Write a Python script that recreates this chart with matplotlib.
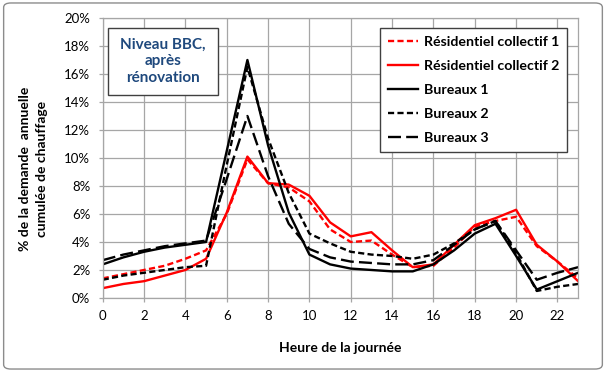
import matplotlib
matplotlib.use("Agg")
import matplotlib.pyplot as plt
from matplotlib.patches import FancyBboxPatch, Rectangle
from matplotlib.ticker import FuncFormatter

# heures de la journee
hours = list(range(24))

# % de la demande annuelle cumulee de chauffage
res_coll_1 = [1.4, 1.7, 2.0, 2.3, 2.8, 3.4, 6.0, 9.9, 8.2, 7.9, 6.9, 4.9,
              4.0, 4.1, 3.1, 2.2, 2.3, 3.6, 5.1, 5.5, 5.8, 3.7, 2.6, 1.4]
res_coll_2 = [0.7, 1.0, 1.2, 1.6, 2.0, 2.8, 6.1, 10.1, 8.2, 8.1, 7.3, 5.4,
              4.4, 4.7, 3.4, 2.2, 2.4, 3.8, 5.2, 5.7, 6.3, 3.8, 2.6, 1.2]
bureaux_1 = [2.4, 2.9, 3.3, 3.6, 3.8, 4.0, 10.5, 17.0, 10.9, 6.1, 3.1, 2.4,
             2.1, 2.0, 1.9, 1.9, 2.4, 3.4, 4.6, 5.3, 3.0, 0.6, 1.2, 1.8]
bureaux_2 = [1.3, 1.6, 1.8, 2.0, 2.2, 2.3, 9.5, 16.5, 11.4, 7.5, 4.6, 3.9,
             3.3, 3.1, 3.0, 2.8, 3.1, 3.9, 4.9, 5.5, 3.2, 0.5, 0.8, 1.0]
bureaux_3 = [2.7, 3.1, 3.4, 3.7, 3.9, 4.1, 8.5, 13.0, 8.7, 5.3, 3.5, 2.9,
             2.6, 2.5, 2.4, 2.4, 2.7, 3.8, 4.9, 5.5, 3.4, 1.3, 1.8, 2.2]

plt.rcParams['font.family'] = ['Lato', 'DejaVu Sans']

fig = plt.figure(figsize=(6.06, 3.72), dpi=100)
ax = fig.add_axes([0.1695, 0.199, 0.7845, 0.7526])

# cadre arrondi autour du graphique
frame = FancyBboxPatch((0.006, 0.008), 0.988, 0.984,
                       boxstyle="round,pad=0,rounding_size=0.012",
                       transform=fig.transFigure, fill=False,
                       edgecolor="#8c8c8c", linewidth=1.0)
fig.patches.append(frame)

lw = 1.7
ax.plot(hours, res_coll_1, color="#ff0000", lw=lw, dashes=(2.6, 1.4),
        label="Résidentiel collectif 1")
ax.plot(hours, res_coll_2, color="#ff0000", lw=lw,
        label="Résidentiel collectif 2")
ax.plot(hours, bureaux_1, color="black", lw=lw, label="Bureaux 1")
ax.plot(hours, bureaux_2, color="black", lw=lw, dashes=(2.6, 1.4),
        label="Bureaux 2")
ax.plot(hours, bureaux_3, color="black", lw=lw, dashes=(5.5, 2.2),
        label="Bureaux 3")

ax.set_xlim(0, 23)
ax.set_ylim(0, 20)
ax.set_xticks(range(0, 23, 2))
ax.set_yticks(range(0, 21, 2))
ax.yaxis.set_major_formatter(FuncFormatter(lambda v, p: "%d%%" % v))
ax.grid(True, color="#a6a6a6", lw=0.9)
ax.set_axisbelow(True)
for s in ax.spines.values():
    s.set_color("#a6a6a6")
    s.set_linewidth(0.9)
ax.tick_params(axis="both", colors="#a6a6a6", length=3, width=0.9,
               labelcolor="black", labelsize=9.5)
ax.tick_params(axis="y", pad=6)
ax.tick_params(axis="x", pad=6)

fig.text(0.561, 0.065, "Heure de la journée", ha="center", va="center",
         fontsize=10, fontweight="bold")
fig.text(0.055, 0.545, "% de la demande  annuelle\ncumulée de chauffage",
         ha="center", va="center", rotation=90, fontsize=10,
         fontweight="bold", linespacing=1.45)

# encadre du titre
ax.add_patch(Rectangle((0.0112, 0.725), 0.2314, 0.239, transform=ax.transAxes,
                       facecolor="white", edgecolor="#404040", lw=1.0,
                       zorder=5))
ax.text(0.127, 0.845, "Niveau BBC,\naprès\nrénovation", transform=ax.transAxes,
        ha="center", va="center", fontsize=11, fontweight="bold",
        color="#1f497d", linespacing=1.2, zorder=6)

leg = ax.legend(loc="upper right", bbox_to_anchor=(0.977, 0.964),
                fancybox=False, framealpha=1, edgecolor="#404040",
                handlelength=2.1, handletextpad=0.45, labelspacing=0.85,
                borderpad=0.55, borderaxespad=0,
                prop={"weight": "bold", "size": 10.2})
leg.get_frame().set_linewidth(1.0)

fig.savefig("out.png", dpi=100)
